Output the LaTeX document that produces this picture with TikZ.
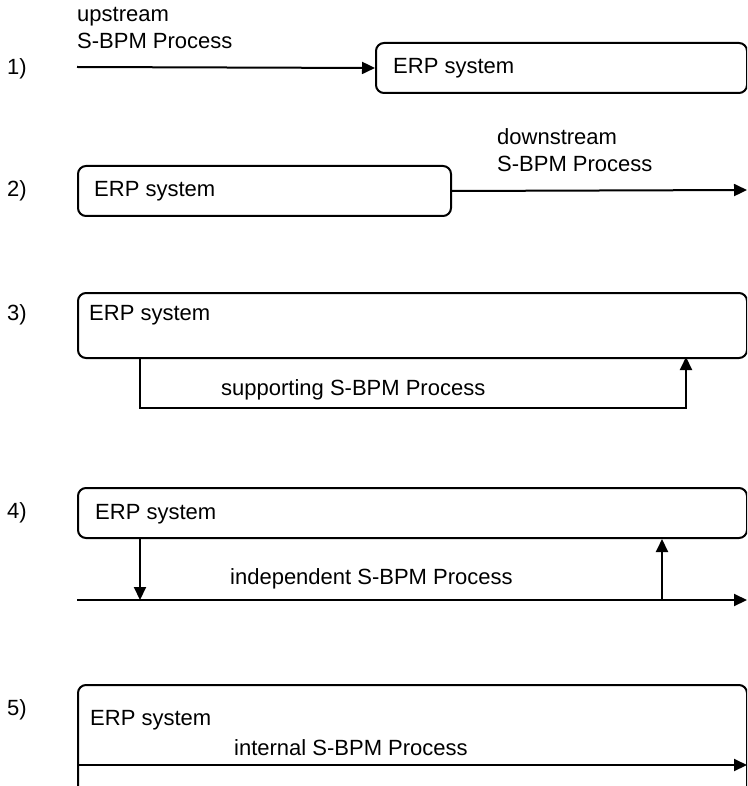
\documentclass[tikz,border=0pt]{standalone}
\usepackage{fontspec}
\setmainfont{Liberation Sans}
\usetikzlibrary{arrows.meta,positioning}

\tikzset{
    erpbox/.style={rectangle,draw,line width=2pt,rounded corners=8pt,anchor=north west,inner sep=0pt},
    txt/.style={inner sep=0pt,font=\fontsize{22}{26}\selectfont,anchor=base west},
    flow/.style={-{Triangle[length=13pt,width=12pt]},line width=2pt},
}

\begin{document}
\begin{tikzpicture}[x=1pt,y=-1pt]
    \useasboundingbox (0,0) rectangle (747,786);
    \clip (0,0) rectangle (747,786);

    % 1) upstream
    \node[txt] (n1) at (7,75) {1)};
    \node[erpbox,minimum width=371pt,minimum height=50pt] (erp1) at (375,42) {};
    \node[txt] (l1) at (393,74) {ERP system};
    \coordinate (up) at (77,67);
    \node[txt] (upl1) at (77,22) {upstream};
    \node[txt] (upl2) at (77,49) {S-BPM Process};
    \draw[flow] (up) -- (erp1.west);

    % 2) downstream
    \node[txt] (n2) at (7,197) {2)};
    \node[erpbox,minimum width=373pt,minimum height=50pt] (erp2) at (77,165) {};
    \node[txt] (l2) at (94,197) {ERP system};
    \coordinate (down) at (747,190);
    \node[txt] (downl1) at (497,145) {downstream};
    \node[txt] (downl2) at (497,172) {S-BPM Process};
    \draw[flow] (erp2.east) -- (down);

    % 3) supporting
    \node[txt] (n3) at (7,320) {3)};
    \node[erpbox,minimum width=669pt,minimum height=65pt] (erp3) at (77,292) {};
    \node[txt] (l3) at (89,320) {ERP system};
    \coordinate (s1) at (140,357);
    \coordinate (s2) at (686,357);
    \draw[flow] (s1) -- (140,408) -| (s2);
    \node[txt] (supl) at (221,395) {supporting S-BPM Process};

    % 4) independent
    \node[txt] (n4) at (7,518) {4)};
    \node[erpbox,minimum width=669pt,minimum height=50pt] (erp4) at (77,487) {};
    \node[txt] (l4) at (95,519) {ERP system};
    \coordinate (i0) at (77,600);
    \coordinate (i1) at (140,600);
    \coordinate (i2) at (662,600);
    \coordinate (i3) at (747,600);
    \draw[flow] (i0) -- (i3);
    \draw[flow] (erp4.south -| i1) -- (i1);
    \draw[flow] (i2) -- (erp4.south -| i2);
    \node[txt] (indl) at (230,584) {independent S-BPM Process};

    % 5) internal
    \node[txt] (n5) at (7,715) {5)};
    \node[erpbox,minimum width=669pt,minimum height=110pt] (erp5) at (77,684) {};
    \node[txt] (l5) at (90,725) {ERP system};
    \coordinate (e1) at (747,765);
    \draw[flow] (erp5.west |- e1) -- (e1);
    \node[txt] (intl) at (234,755) {internal S-BPM Process};
\end{tikzpicture}
\end{document}
